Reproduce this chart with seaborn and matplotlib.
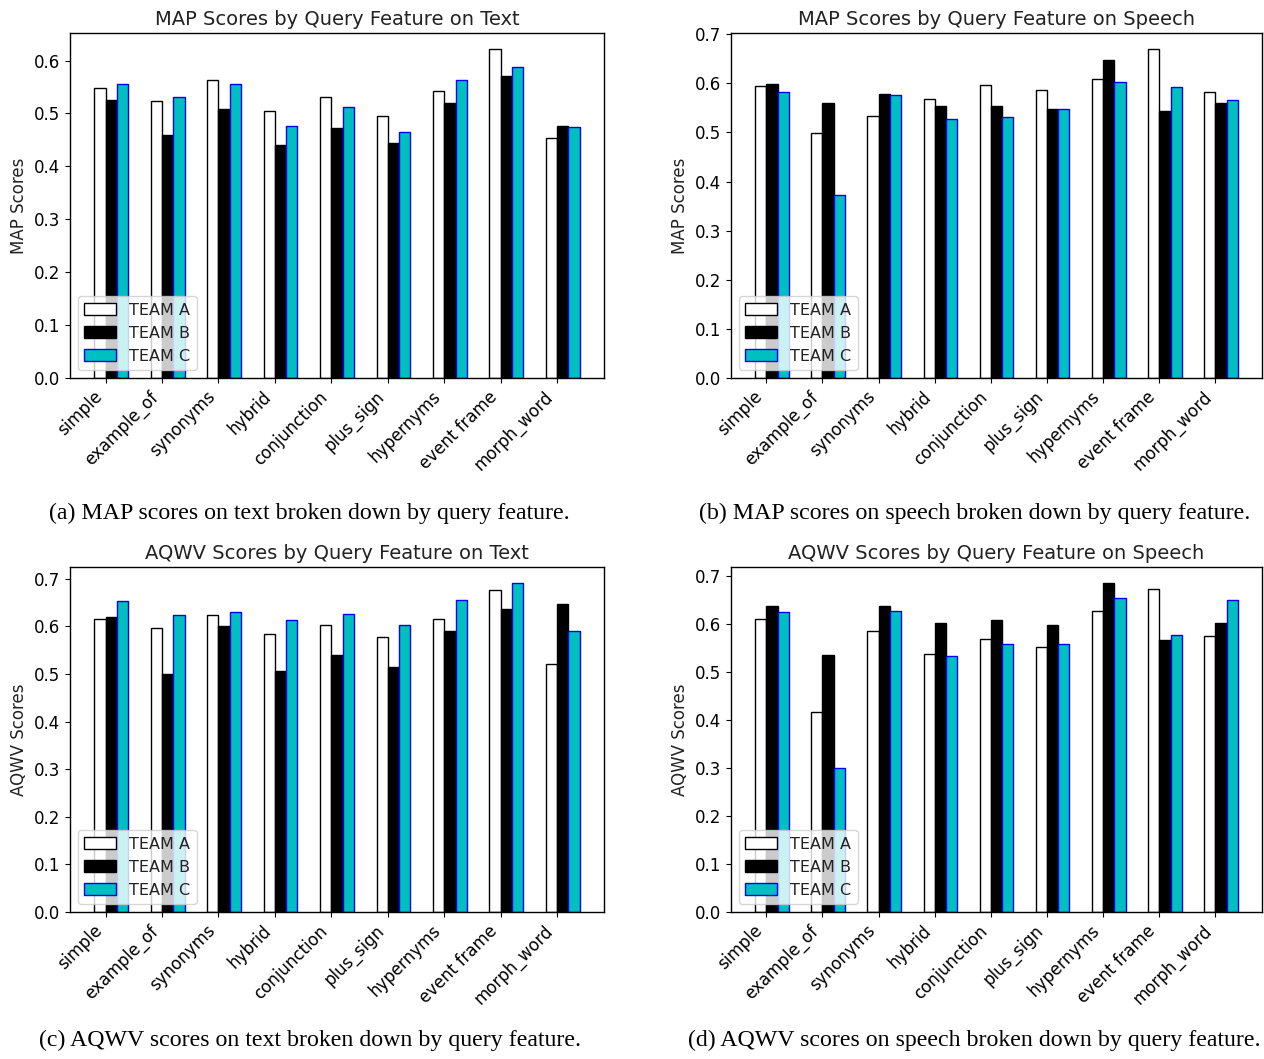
import numpy as np
import pandas as pd
import matplotlib
matplotlib.use("Agg")
import matplotlib.pyplot as plt
import seaborn as sns

features = ["simple", "example_of", "synonyms", "hybrid", "conjunction",
            "plus_sign", "hypernyms", "event frame", "morph_word"]
teams = ["TEAM A", "TEAM B", "TEAM C"]

# MAP on text
map_text_a = [0.549, 0.523, 0.564, 0.504, 0.531, 0.495, 0.543, 0.621, 0.453]
map_text_b = [0.526, 0.460, 0.508, 0.441, 0.472, 0.445, 0.520, 0.571, 0.477]
map_text_c = [0.555, 0.531, 0.555, 0.477, 0.513, 0.464, 0.564, 0.588, 0.474]

# MAP on speech
map_speech_a = [0.595, 0.498, 0.534, 0.569, 0.597, 0.586, 0.608, 0.669, 0.582]
map_speech_b = [0.599, 0.560, 0.579, 0.553, 0.553, 0.547, 0.647, 0.544, 0.560]
map_speech_c = [0.582, 0.372, 0.576, 0.527, 0.531, 0.547, 0.602, 0.592, 0.567]

# AQWV on text
aqwv_text_a = [0.616, 0.597, 0.623, 0.583, 0.603, 0.577, 0.616, 0.677, 0.520]
aqwv_text_b = [0.620, 0.500, 0.601, 0.507, 0.540, 0.514, 0.591, 0.637, 0.647]
aqwv_text_c = [0.653, 0.623, 0.630, 0.614, 0.626, 0.602, 0.656, 0.690, 0.590]

# AQWV on speech
aqwv_speech_a = [0.610, 0.416, 0.584, 0.537, 0.568, 0.551, 0.627, 0.673, 0.575]
aqwv_speech_b = [0.637, 0.535, 0.637, 0.601, 0.608, 0.598, 0.684, 0.566, 0.601]
aqwv_speech_c = [0.624, 0.300, 0.627, 0.532, 0.557, 0.557, 0.654, 0.577, 0.650]

sns.set_style("ticks")
plt.rcParams["font.family"] = ["DejaVu Sans"]
plt.rcParams["axes.edgecolor"] = "black"
plt.rcParams["xtick.color"] = "black"
plt.rcParams["ytick.color"] = "black"
plt.rcParams["text.color"] = "#222222"
plt.rcParams["axes.labelcolor"] = "#222222"

fig = plt.figure(figsize=(12.64, 10.59), dpi=100)

W, H = 1264, 1059
def axes_at(left, top, right, bottom):
    return fig.add_axes([left / W, 1 - bottom / H, (right - left) / W, (bottom - top) / H])

panels = [
    (axes_at(70, 33, 604, 378), "MAP Scores by Query Feature on Text", "MAP Scores",
     (map_text_a, map_text_b, map_text_c)),
    (axes_at(731, 33, 1262, 378), "MAP Scores by Query Feature on Speech", "MAP Scores",
     (map_speech_a, map_speech_b, map_speech_c)),
    (axes_at(70, 567, 604, 912), "AQWV Scores by Query Feature on Text", "AQWV Scores",
     (aqwv_text_a, aqwv_text_b, aqwv_text_c)),
    (axes_at(731, 567, 1262, 912), "AQWV Scores by Query Feature on Speech", "AQWV Scores",
     (aqwv_speech_a, aqwv_speech_b, aqwv_speech_c)),
]

fills = ["white", "black", "c"]
edges = ["black", "black", "blue"]
fs = 12

for ax, title, ylabel, series in panels:
    df = pd.DataFrame({
        "feature": features * 3,
        "team": sum([[t] * len(features) for t in teams], []),
        "score": sum([list(s) for s in series], []),
    })
    sns.barplot(data=df, x="feature", y="score", hue="team", order=features,
                hue_order=teams, palette=fills, saturation=1, width=0.6,
                errorbar=None, ax=ax, linewidth=1.0, edgecolor="black")
    for cont, ec in zip(ax.containers, edges):
        for p in cont:
            p.set_edgecolor(ec)
            p.set_linewidth(1.0)
    n = len(features)
    ax.set_xlim(-0.73, n - 1 + 0.73)
    ymax = max(max(s) for s in series) * 1.05
    ax.set_ylim(0, ymax)
    ax.set_xticks(np.arange(n) - 0.1)
    ax.set_xticklabels(features, rotation=45, ha="right", fontsize=fs)
    ax.tick_params(axis="y", labelsize=fs)
    ax.set_yticks(np.arange(0, ymax + 1e-9, 0.1))
    ax.set_xlabel("")
    ax.set_ylabel(ylabel, fontsize=fs)
    ax.set_title(title, fontsize=14)
    for s in ax.spines.values():
        s.set_visible(True)
        s.set_linewidth(1.0)
    ax.legend(ax.containers, teams, loc="lower left", fontsize=11.5,
              framealpha=0.8, fancybox=True)

cap_kw = dict(ha="center", va="center", fontsize=17.2, family="Liberation Serif", color="black")
fig.text(309 / W, 1 - 513 / H, "(a) MAP scores on text broken down by query feature.", **cap_kw)
fig.text(975 / W, 1 - 513 / H, "(b) MAP scores on speech broken down by query feature.", **cap_kw)
fig.text(310 / W, 1 - 1040 / H, "(c) AQWV scores on text broken down by query feature.", **cap_kw)
fig.text(974 / W, 1 - 1040 / H, "(d) AQWV scores on speech broken down by query feature.", **cap_kw)

fig.savefig("out.png", dpi=100)
